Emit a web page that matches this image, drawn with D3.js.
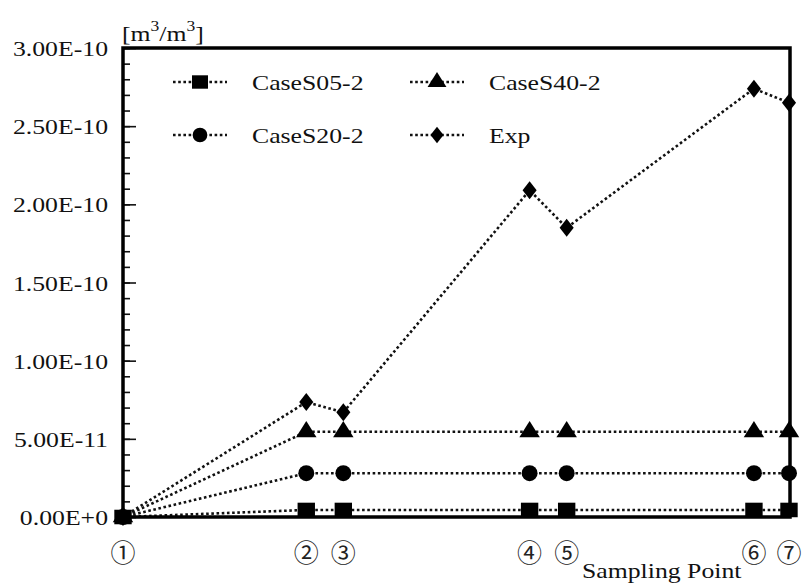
<!DOCTYPE html>
<html>
<head>
<meta charset="utf-8">
<script src="https://cdn.jsdelivr.net/npm/d3@7"></script>
<style>
  html, body { margin: 0; padding: 0; background: #fff; }
  svg { display: block; }
  .serif { font-family: "Liberation Serif", "Times New Roman", serif; fill: #111; }
  .circ { font-family: "Noto Sans CJK JP", "DejaVu Sans", sans-serif; fill: #222; }
</style>
</head>
<body>
<svg id="chart" width="803" height="585"></svg>
<script>
// Sampling points along the duct (relative position) and their labels
const pointLabels = ["①", "②", "③", "④", "⑤", "⑥", "⑦"];
const positions = [0, 18.3, 22.0, 40.6, 44.3, 63.0, 66.5];

// Concentration [m3/m3] at each sampling point
const caseS05 = [0, 4.5e-12, 4.5e-12, 4.5e-12, 4.5e-12, 4.5e-12, 4.5e-12];
const caseS20 = [0, 2.8e-11, 2.8e-11, 2.8e-11, 2.8e-11, 2.8e-11, 2.8e-11];
const caseS40 = [0, 5.45e-11, 5.45e-11, 5.45e-11, 5.45e-11, 5.45e-11, 5.45e-11];
const expData = [0, 7.35e-11, 6.7e-11, 2.09e-10, 1.85e-10, 2.74e-10, 2.65e-10];

const yTickValues = [0, 5e-11, 1e-10, 1.5e-10, 2e-10, 2.5e-10, 3e-10];
const yTickLabels = ["0.00E+0", "5.00E-11", "1.00E-10", "1.50E-10", "2.00E-10", "2.50E-10", "3.00E-10"];

const series = [
  { name: "Exp", values: expData, symbol: d3.symbolDiamond, size: 130, sx: 1.15, sy: 0.85 },
  { name: "CaseS40-2", values: caseS40, symbol: d3.symbolTriangle, size: 150, sx: 1.1, sy: 1 },
  { name: "CaseS20-2", values: caseS20, symbol: d3.symbolCircle, size: 200, sx: 1, sy: 1 },
  { name: "CaseS05-2", values: caseS05, symbol: d3.symbolSquare, size: 250, sx: 1.1, sy: 0.92 }
];

const svg = d3.select("#chart");
const plotLeft = 123, plotRight = 790, plotTop = 48, plotBottom = 517;
const stretch = 1.17;

const x = d3.scaleLinear().domain([0, 66.6]).range([plotLeft, plotRight]);
const y = d3.scaleLinear().domain([0, 3e-10]).range([plotBottom, plotTop]);

function stretchedText(g, tx, ty, str, size, anchor) {
  return g.append("text")
    .attr("class", "serif")
    .attr("transform", `translate(${tx},${ty}) scale(${stretch},1)`)
    .attr("text-anchor", anchor || "start")
    .attr("font-size", size)
    .text(str);
}

// Inward ticks on the left axis: minor every 1E-11, major every 5E-11
svg.append("g")
  .attr("transform", `translate(${plotLeft},0)`)
  .call(d3.axisRight(y).tickValues(d3.range(0, 31).map(i => i * 1e-11)).tickSize(7).tickFormat(""))
  .call(g => g.select(".domain").remove())
  .call(g => g.selectAll("line").attr("stroke", "#111").attr("stroke-width", 1.6));
svg.append("g")
  .attr("transform", `translate(${plotLeft},0)`)
  .call(d3.axisRight(y).tickValues(yTickValues).tickSize(13).tickFormat(""))
  .call(g => g.select(".domain").remove())
  .call(g => g.selectAll("line").attr("stroke", "#111").attr("stroke-width", 1.6));

// Y tick labels
const yl = svg.append("g");
yTickValues.forEach((v, i) => {
  stretchedText(yl, 108, y(v) + 8, yTickLabels[i], 22, "end");
});

// Unit label
const unit = svg.append("text").attr("class", "serif")
  .attr("transform", `translate(122,41) scale(${stretch},1)`)
  .attr("font-size", 22);
unit.append("tspan").text("[m");
unit.append("tspan").attr("font-size", 15).attr("dy", -10).text("3");
unit.append("tspan").attr("dy", 10).text("/m");
unit.append("tspan").attr("font-size", 15).attr("dy", -10).text("3");
unit.append("tspan").attr("dy", 10).text("]");

// Data lines and markers
const line = d3.line().x((d, i) => x(positions[i])).y(d => y(d));
series.forEach(s => {
  svg.append("path")
    .datum(s.values)
    .attr("fill", "none")
    .attr("stroke", "#111")
    .attr("stroke-width", 2.6)
    .attr("stroke-dasharray", "2.6,2.6")
    .attr("d", line);
});
series.forEach(s => {
  svg.append("g").selectAll("path")
    .data(s.values)
    .join("path")
    .attr("transform", (d, i) => `translate(${x(positions[i])},${y(d)}) scale(${s.sx},${s.sy})`)
    .attr("d", d3.symbol(s.symbol, s.size))
    .attr("fill", "#000");
});

// Plot frame
svg.append("rect")
  .attr("x", plotLeft).attr("y", plotTop)
  .attr("width", plotRight - plotLeft).attr("height", plotBottom - plotTop)
  .attr("fill", "none").attr("stroke", "#000").attr("stroke-width", 3.5);

// Legend
const legendItems = [
  { s: series[3], lx: 200, ly: 82 },
  { s: series[1], lx: 437, ly: 82 },
  { s: series[2], lx: 200, ly: 135 },
  { s: series[0], lx: 437, ly: 135 }
];
const lg = svg.append("g");
legendItems.forEach(it => {
  lg.append("line")
    .attr("x1", it.lx - 27).attr("x2", it.lx + 27)
    .attr("y1", it.ly).attr("y2", it.ly)
    .attr("stroke", "#111").attr("stroke-width", 2.6)
    .attr("stroke-dasharray", "2.6,2.6");
  lg.append("path")
    .attr("transform", `translate(${it.lx},${it.ly}) scale(${it.s.sx},${it.s.sy})`)
    .attr("d", d3.symbol(it.s.symbol, it.s.size * 0.85))
    .attr("fill", "#000");
  stretchedText(lg, it.lx + 52, it.ly + 8, it.s.name, 22, "start");
});

// Sampling point labels
const xl = svg.append("g");
pointLabels.forEach((lab, i) => {
  xl.append("text")
    .attr("class", "circ")
    .attr("x", x(positions[i]))
    .attr("y", 551)
    .attr("dominant-baseline", "central")
    .attr("text-anchor", "middle")
    .attr("font-size", 25)
    .text(lab);
});

// X axis title
stretchedText(svg, 582, 578, "Sampling Point", 22, "start");
</script>
</body>
</html>
